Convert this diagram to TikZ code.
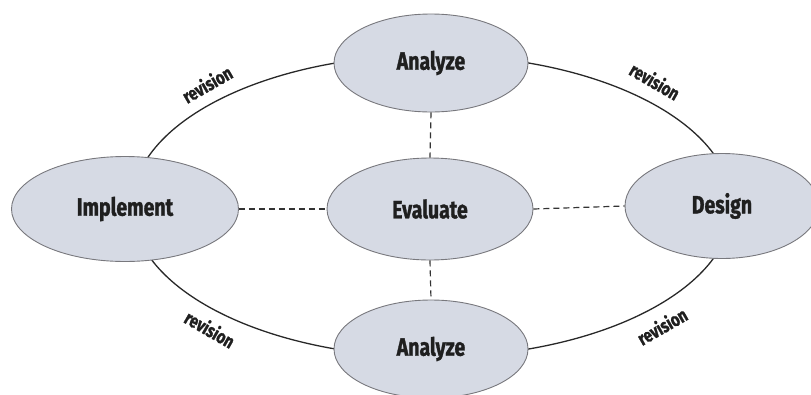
\documentclass[tikz,border=0pt]{standalone}
\usepackage{fontspec}
\setmainfont{Fira Sans}
\newfontfamily\labfont[FakeStretch=0.78,FakeBold=1.2]{Fira Sans}
\usetikzlibrary{shapes.geometric}
\definecolor{nodefill}{RGB}{214,218,228}
\definecolor{nodeline}{RGB}{120,120,125}
\definecolor{loopline}{RGB}{40,40,40}
\tikzset{
  stage/.style={ellipse, draw=nodeline, line width=0.9pt, fill=nodefill, inner sep=0pt,
    font=\labfont\bfseries\fontsize{25}{28}\selectfont, text=black!88},
  revlabel/.style={font=\labfont\bfseries\fontsize{19}{21}\selectfont, text=black!88, inner sep=0pt},
  dashlink/.style={draw=black!80, line width=1.2pt, dash pattern=on 6pt off 4pt},
  looppath/.style={ellipse, draw=loopline, line width=1.3pt, inner sep=0pt}
}
\begin{document}
\begin{tikzpicture}[x=1pt,y=-1pt]
\useasboundingbox (0,0) rectangle (811,394);
\clip (0,0) rectangle (811,394);
\node[looppath, minimum width=600pt, minimum height=302pt] (loop) at (432,206) {};
\node[stage, minimum width=194pt, minimum height=98pt] (top) at (431,63) {Analyze};
\node[stage, minimum width=206pt, minimum height=102pt] (eval) at (430,209) {Evaluate};
\node[stage, minimum width=227pt, minimum height=105pt] (impl) at (125,209) {Implement};
\node[stage, minimum width=194pt, minimum height=105pt] (design) at (722,206) {Design};
\node[stage, minimum width=194pt, minimum height=98pt] (bot) at (431,349) {Analyze};
\draw[dashlink] (top.south) -- (eval.north);
\draw[dashlink] (eval.south) -- (bot.north);
\draw[dashlink] (impl.east) -- (eval.west);
\draw[dashlink] (eval.east) -- (design.west);
\node[revlabel, rotate=30] (r1) at (207,84) {revision};
\node[revlabel, rotate=-30] (r2) at (655,81) {revision};
\node[revlabel, rotate=-30] (r3) at (210,329) {revision};
\node[revlabel, rotate=30] (r4) at (662,326) {revision};
\end{tikzpicture}
\end{document}
